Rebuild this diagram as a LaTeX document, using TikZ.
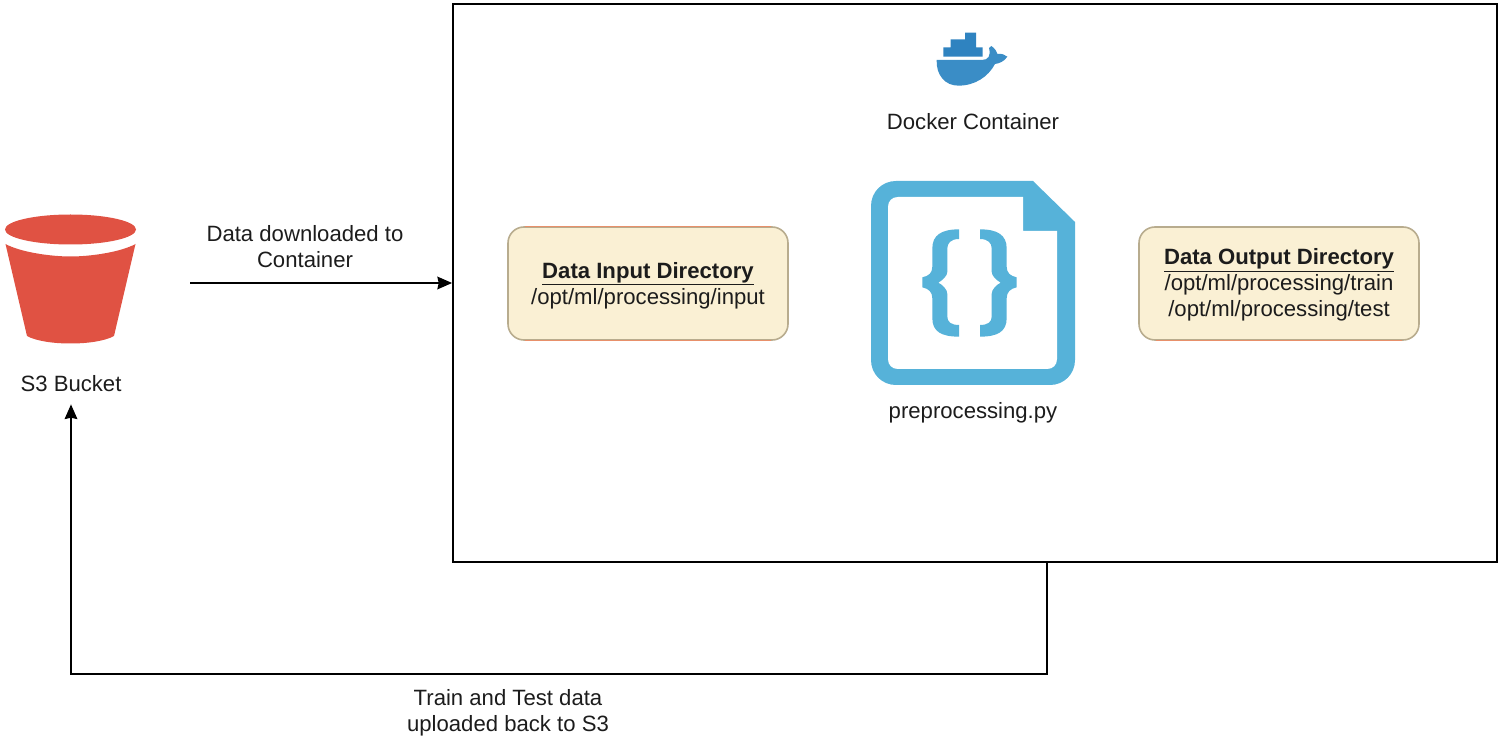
\documentclass[tikz,border=0pt]{standalone}
\usepackage{fontspec}
\setmainfont{Liberation Sans}
\usetikzlibrary{arrows.meta,calc}
\definecolor{bucketred}{HTML}{E05243}
\definecolor{fileblue}{HTML}{56B2D9}
\definecolor{dockerblue}{HTML}{2F83C0}
\definecolor{hullblue}{HTML}{3A8DC6}
\definecolor{dirfill}{HTML}{FAF0D4}
\definecolor{dirline}{HTML}{B8AC8E}
\definecolor{diredge}{HTML}{E8906A}
\definecolor{inkc}{HTML}{1C1C1C}
\newcommand{\bracefill}{%
  \fill[fileblue] (297,178) .. controls (245,178) and (217,195) .. (217,235)
      -- (217,290) .. controls (217,310) and (205,318) .. (187,322)
      -- (187,352) .. controls (205,356) and (217,365) .. (217,385)
      -- (217,445) .. controls (217,485) and (245,500) .. (297,500)
      -- (297,465) .. controls (272,465) and (262,455) .. (262,440)
      -- (262,372) .. controls (262,358) and (248,345) .. (235,338)
      .. controls (248,330) and (262,318) .. (262,305)
      -- (262,235) .. controls (262,220) and (272,207) .. (297,207) -- cycle;}
\tikzset{
  lbl/.style={font=\fontsize{16.6}{19.5}\selectfont, text=inkc, align=center, inner sep=0pt},
  dirbox/.style={draw=dirline, line width=1.2pt, fill=dirfill, rounded corners=12pt,
     minimum width=210pt, minimum height=84.75pt, inner sep=0pt},
  diredgeline/.style={draw=diredge, line width=0.8pt},
  frame/.style={draw=black, line width=1.4pt, minimum width=783pt, minimum height=418.5pt, inner sep=0pt},
  conn/.style={draw=black, line width=1.2pt, -{Stealth[inset=1pt,length=11pt,width=9.5pt]}}
}
\begin{document}
\begin{tikzpicture}[x=0.75pt,y=-0.75pt]
\useasboundingbox (0,0) rectangle (1499,741);

% bucket
\fill[bucketred] (70.5,229.5) ellipse [x radius=65.5, y radius=15];
\fill[bucketred] (5.5,244) .. controls (20,252) and (50,256.5) .. (70.5,256.5)
   .. controls (91,256.5) and (121,252) .. (135.5,244)
   -- (114,336) .. controls (105,341) and (88,343.5) .. (70.5,343.5)
   .. controls (53,343.5) and (36,341) .. (27,336) -- cycle;
\coordinate (downstart) at (190,283);
\node[lbl] (s3) at (71,384) {S3 Bucket};

% container
\node[frame] (container) at (975,283) {};

% docker whale
\begin{scope}[shift={(880,20)},x=0.25pt,y=-0.25pt]
  \fill[dockerblue] (255,38) -- (288,38) -- (288,82) -- (308,82) -- (308,110)
     -- (190,110) -- (190,82) -- (212,82) -- (212,58) -- (255,58) -- cycle;
  \fill[hullblue] (170,120) -- (305,120) .. controls (325,120) and (333,108) .. (327,84)
     -- (334,78) .. controls (345,85) and (350,95) .. (352,102)
     .. controls (365,100) and (375,104) .. (382,110)
     .. controls (372,125) and (358,130) .. (345,132)
     .. controls (325,170) and (285,197) .. (235,197)
     .. controls (195,197) and (168,165) .. (170,120) -- cycle;
\end{scope}
\node[lbl] (docker) at (973,122) {Docker Container};

% script file
\fill[fileblue] (896,181) -- (1033,181) -- (1075,222) -- (1075,360)
   .. controls (1075,374) and (1064,385) .. (1050,385) -- (896,385)
   .. controls (882,385) and (871,374) .. (871,360) -- (871,206)
   .. controls (871,192) and (882,181) .. (896,181) -- cycle;
\fill[white] (898,197) -- (1023,197) -- (1023,231) -- (1057,231) -- (1057,359)
   .. controls (1057,365) and (1053,369) .. (1047,369) -- (898,369)
   .. controls (892,369) and (888,365) .. (888,359) -- (888,207)
   .. controls (888,201) and (892,197) .. (898,197) -- cycle;
\begin{scope}[shift={(860,170)},x=0.25pt,y=-0.25pt]
  \bracefill
\end{scope}
\begin{scope}[shift={(1079,170)},x=-0.25pt,y=-0.25pt]
  \bracefill
\end{scope}
\node[lbl] (script) at (973,413) {preprocessing.py};

% directories
\node[dirbox] (input) at (648,283.5) {};
\draw[diredgeline] ($(input.north west)+(18,0)$) -- ($(input.north east)+(-18,0)$);
\draw[diredgeline] ($(input.south west)+(18,0)$) -- ($(input.south east)+(-18,0)$);
\node[lbl,yshift=-1.5pt] (inputtext) at (input) {\underline{\textbf{Data Input Directory}}\\/opt/ml/processing/input};
\node[dirbox] (output) at (1279,283.5) {};
\draw[diredgeline] ($(output.south west)+(18,0)$) -- ($(output.south east)+(-18,0)$);
\node[lbl,yshift=-1pt] (outputtext) at (output) {\underline{\textbf{Data Output Directory}}\\/opt/ml/processing/train\\/opt/ml/processing/test};

% connectors
\draw[conn] (downstart) -- (container.west);
\coordinate (upstart) at ($(container.south west)+(595,0)$);
\draw[conn] (upstart) -- ++(0,111) -| ($(s3.south)+(0,12)$);

% connector labels
\node[lbl] (downlabel) at (305,247) {Data downloaded to\\Container};
\node[lbl] (uplabel) at (508,713) {Train and Test data\\uploaded back to S3};
\end{tikzpicture}
\end{document}
